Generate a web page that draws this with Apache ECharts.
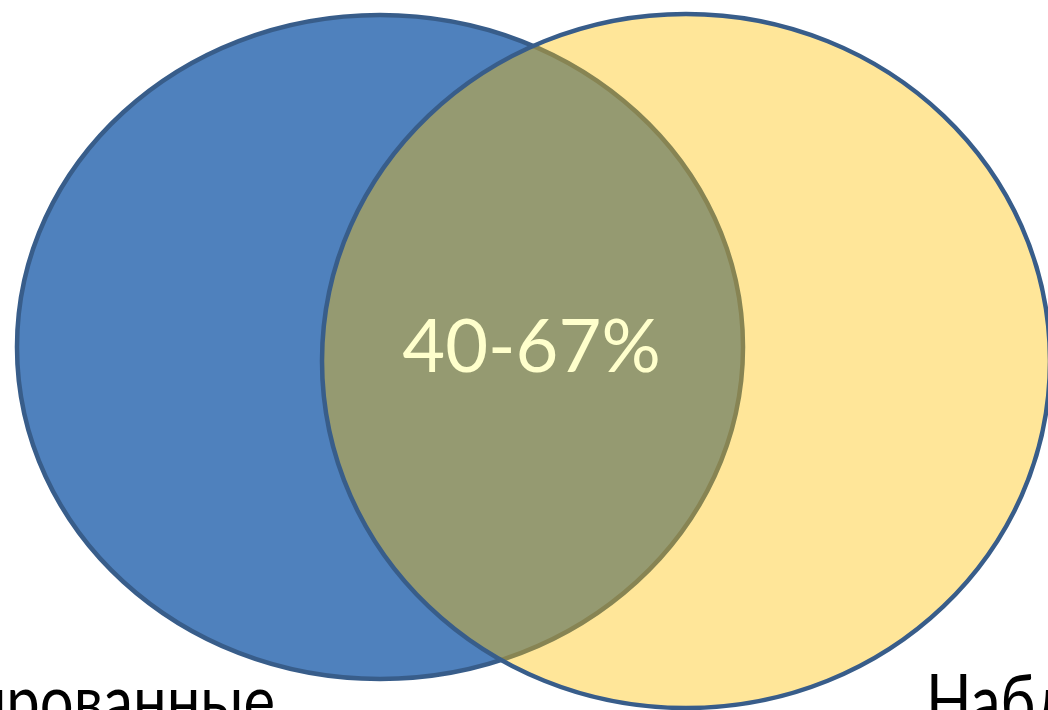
<!DOCTYPE html>
<html>
<head>
<meta charset="utf-8">
<script src="https://cdn.jsdelivr.net/npm/echarts@6/dist/echarts.min.js"></script>
<style>
  html, body { margin: 0; padding: 0; background: #ffffff; }
  #chart { width: 1048px; height: 710px; }
</style>
</head>
<body>
<div id="chart"></div>
<script>
// Two overlapping sets and the share they have in common
const setNames = ['Диагностированные', 'Наблюдаемые'];
// Ellipse geometry of each set in axis units: [centerX, centerY, radiusX, radiusY]
const setShapes = [
  [380, 347, 363, 332],
  [686, 361, 364, 347]
];
const overlapLabel = ['40-67%'];

const fills = ['#4F81BD', 'rgba(255,192,0,0.40)'];
const strokeColor = '#385D8A';

const chart = echarts.init(document.getElementById('chart'));

chart.setOption({
  animation: false,
  grid: { left: 0, right: 0, top: 0, bottom: 0 },
  xAxis: { type: 'value', min: 0, max: 1048, show: false },
  yAxis: { type: 'value', min: 0, max: 710, inverse: true, show: false },
  series: [
    {
      type: 'custom',
      coordinateSystem: 'cartesian2d',
      data: setShapes.map((s, i) => [s[0], s[1], s[2], s[3], i]),
      renderItem: function (params, api) {
        const c = api.coord([api.value(0), api.value(1)]);
        const r = api.size([api.value(2), api.value(3)]);
        const idx = api.value(4);
        return {
          type: 'ellipse',
          shape: { cx: c[0], cy: c[1], rx: r[0], ry: r[1] },
          style: { fill: fills[idx], stroke: strokeColor, lineWidth: 4.5 },
          z2: idx
        };
      }
    },
    {
      // overlap label, placed midway between the inner edges of the two sets
      type: 'custom',
      coordinateSystem: 'cartesian2d',
      data: [[(setShapes[1][0] - setShapes[1][2] + setShapes[0][0] + setShapes[0][2]) / 2,
              (setShapes[0][1] + setShapes[1][1]) / 2]],
      z: 3,
      renderItem: function (params, api) {
        const c = api.coord([api.value(0) - 1, api.value(1) - 6]);
        return {
          type: 'text',
          style: {
            x: c[0], y: c[1],
            text: overlapLabel[0],
            fill: '#FFFFCC',
            font: '74px Lato, "Open Sans", sans-serif',
            align: 'center',
            verticalAlign: 'middle'
          }
        };
      }
    },
    {
      // set names below each ellipse (narrowed to a condensed look)
      type: 'custom',
      coordinateSystem: 'cartesian2d',
      data: [[275, 703, 0], [926, 703, 1]],
      z: 3,
      renderItem: function (params, api) {
        const c = api.coord([api.value(0), api.value(1)]);
        const idx = api.value(2);
        return {
          type: 'text',
          x: c[0],
          y: c[1],
          scaleX: 0.83,
          style: {
            x: 0, y: 0,
            text: setNames[idx],
            fill: '#000000',
            font: '72px Lato, "Open Sans", sans-serif',
            align: idx === 0 ? 'right' : 'left',
            verticalAlign: 'middle'
          }
        };
      }
    }
  ]
});
</script>
</body>
</html>
